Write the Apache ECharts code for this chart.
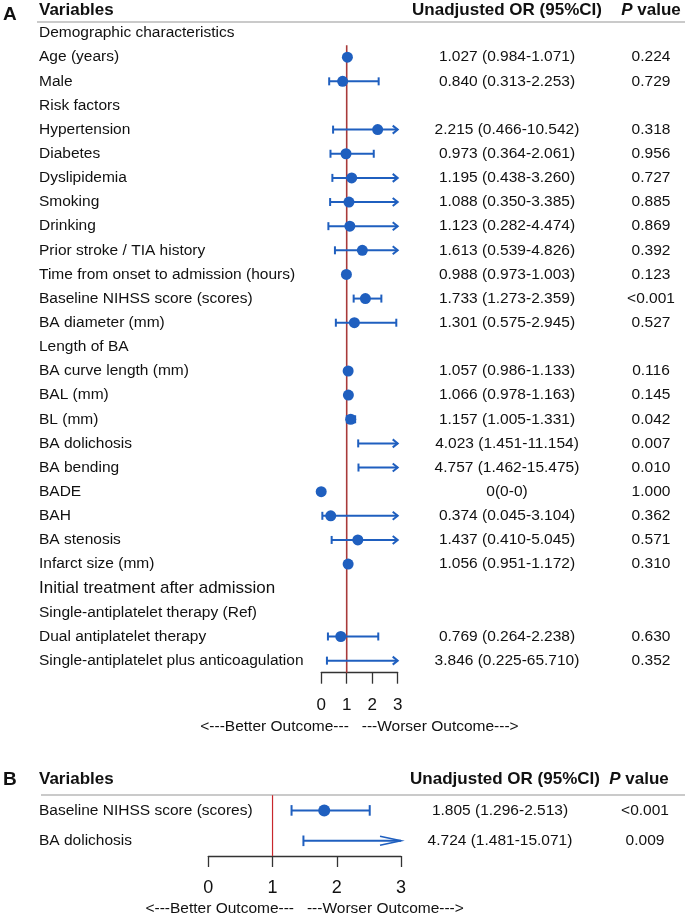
<!DOCTYPE html>
<html>
<head>
<meta charset="utf-8">
<title>Forest plot</title>
<script src="https://cdn.jsdelivr.net/npm/echarts@6/dist/echarts.min.js"></script>
<style>
  html, body { margin: 0; padding: 0; background: #fff; }
  #chart { width: 685px; height: 918px; }
</style>
</head>
<body>
<div id="chart"></div>
<script>
// panel A rows
var rowsA = ['Demographic characteristics', 'Age (years)', 'Male', 'Risk factors', 'Hypertension',
  'Diabetes', 'Dyslipidemia', 'Smoking', 'Drinking', 'Prior stroke / TIA history',
  'Time from onset to admission (hours)', 'Baseline NIHSS score (scores)', 'BA diameter (mm)',
  'Length of BA', 'BA curve length (mm)', 'BAL (mm)', 'BL (mm)', 'BA dolichosis', 'BA bending',
  'BADE', 'BAH', 'BA stenosis', 'Infarct size (mm)', 'Initial treatment after admission',
  'Single-antiplatelet therapy (Ref)', 'Dual antiplatelet therapy',
  'Single-antiplatelet plus anticoagulation'];
var orA = [null, 1.027, 0.840, null, 2.215, 0.973, 1.195, 1.088, 1.123, 1.613, 0.988, 1.733, 1.301,
  null, 1.057, 1.066, 1.157, 4.023, 4.757, 0, 0.374, 1.437, 1.056, null, null, 0.769, 3.846];
var loA = [null, 0.984, 0.313, null, 0.466, 0.364, 0.438, 0.350, 0.282, 0.539, 0.973, 1.273, 0.575,
  null, 0.986, 0.978, 1.005, 1.451, 1.462, 0, 0.045, 0.410, 0.951, null, null, 0.264, 0.225];
var hiA = [null, 1.071, 2.253, null, 10.542, 2.061, 3.260, 3.385, 4.474, 4.826, 1.003, 2.359, 2.945,
  null, 1.133, 1.163, 1.331, 11.154, 15.475, 0, 3.104, 5.045, 1.172, null, null, 2.238, 65.710];
var pA = ['', '0.224', '0.729', '', '0.318', '0.956', '0.727', '0.885', '0.869', '0.392', '0.123',
  '<0.001', '0.527', '', '0.116', '0.145', '0.042', '0.007', '0.010', '1.000', '0.362', '0.571',
  '0.310', '', '', '0.630', '0.352'];
var bigLabels = ['Initial treatment after admission'];

// panel B rows
var rowsB = ['Baseline NIHSS score (scores)', 'BA dolichosis'];
var orB = [1.805, 4.724];
var loB = [1.296, 1.481];
var hiB = [2.513, 15.071];
var pB = ['<0.001', '0.009'];

var xTicks = [0, 1, 2, 3];
var REF = 1;
var outcomeText = '<---Better Outcome---   ---Worser Outcome--->';

var FONT = '"Liberation Sans", Arial, Helvetica, sans-serif';
var BLUE = '#1f5fbf';
var INK = '#111';
var X_MIN = xTicks[0], X_MAX = xTicks[xTicks.length - 1];

function fmt(v) { return v.toFixed(3); }
function orTexts(or, lo, hi) {
  return or.map(function (v, i) {
    if (v === null) return '';
    if (v === 0 && lo[i] === 0 && hi[i] === 0) return '0(0-0)';
    return fmt(v) + ' (' + fmt(lo[i]) + '-' + fmt(hi[i]) + ')';
  });
}
function ciData(or, lo, hi) {
  var out = [];
  or.forEach(function (v, i) {
    if (v !== null && hi[i] > lo[i]) out.push([v, i, lo[i], hi[i]]);
  });
  return out;
}
function pointData(or) {
  var out = [];
  or.forEach(function (v, i) {
    if (v !== null && v >= X_MIN && v <= X_MAX) out.push([v, i]);
  });
  return out;
}

// confidence interval: line, caps, arrow when it runs past the axis end
function ciRenderer(capHalf, arrowLen, arrowHalf, lineW, arrowW) {
  return function (params, api) {
    var row = api.value(1), lo = api.value(2), hi = api.value(3);
    var y = api.coord([X_MIN, row])[1];
    var xl = api.coord([Math.max(lo, X_MIN), row])[0];
    var xr = api.coord([Math.min(hi, X_MAX), row])[0];
    var st = { stroke: BLUE, lineWidth: lineW, fill: null };
    var kids = [
      { type: 'line', shape: { x1: xl, y1: y, x2: xr, y2: y }, style: st },
      { type: 'line', shape: { x1: xl, y1: y - capHalf, x2: xl, y2: y + capHalf }, style: st }
    ];
    if (hi > X_MAX) {
      kids.push({ type: 'polyline',
        shape: { points: [[xr - arrowLen, y - arrowHalf], [xr, y], [xr - arrowLen, y + arrowHalf]] },
        style: { stroke: BLUE, lineWidth: arrowW, fill: null } });
    } else {
      kids.push({ type: 'line', shape: { x1: xr, y1: y - capHalf, x2: xr, y2: y + capHalf }, style: st });
    }
    return { type: 'group', children: kids };
  };
}

function refRenderer(startRow, color, width) {
  return function (params, api) {
    var cs = params.coordSys;
    var x = api.coord([api.value(0), 0])[0];
    var band = api.size([0, 1])[1];
    return { type: 'line',
      shape: { x1: x, y1: cs.y + band * startRow, x2: x, y2: cs.y + cs.height },
      style: { stroke: color, lineWidth: width } };
  };
}

function xAxisCfg(grid, labelSize, margin, nameGap) {
  return {
    gridIndex: grid, type: 'value', min: X_MIN, max: X_MAX, interval: 1,
    splitLine: { show: false },
    axisLine: { show: true, lineStyle: { color: '#333', width: 1.3 } },
    axisTick: { show: true, length: 11, lineStyle: { color: '#333', width: 1.3 } },
    axisLabel: { fontSize: labelSize, color: INK, fontFamily: FONT, margin: margin },
    name: outcomeText, nameLocation: 'middle', nameGap: nameGap,
    nameTextStyle: { fontSize: 15.5, color: INK, fontFamily: FONT }
  };
}
function labelAxis(grid, data, pos, align, margin, big) {
  return {
    gridIndex: grid, type: 'category', inverse: true, data: data, position: pos,
    axisLine: { show: false }, axisTick: { show: false }, splitLine: { show: false },
    axisLabel: {
      interval: 0, align: align, margin: margin, fontSize: 15.5, color: INK, fontFamily: FONT,
      formatter: function (v) { return big && big.indexOf(v) >= 0 ? '{big|' + v + '}' : v; },
      rich: { big: { fontSize: 17, color: INK, fontFamily: FONT } }
    }
  };
}

var gA = { left: 321.2, top: 21, width: 76.5, height: 651.7 };
var gB = { left: 208.3, top: 795.2, width: 192.7, height: 62.8 };
var orTextA = orTexts(orA, loA, hiA);
var orTextB = orTexts(orB, loB, hiB);

function headerTexts(letter, y, orX, pX, lineY, lineX) {
  var bold = 'bold 17px ' + FONT;
  return [
    { type: 'text', x: 3, y: y + (letter === 'A' ? 5 : 1), style: { text: letter, font: 'bold 19px ' + FONT, fill: INK, verticalAlign: 'middle' } },
    { type: 'text', x: 39, y: y, style: { text: 'Variables', font: bold, fill: INK, verticalAlign: 'middle' } },
    { type: 'text', x: orX, y: y, style: { text: 'Unadjusted OR (95%CI)', font: bold, fill: INK, align: 'center', verticalAlign: 'middle' } },
    { type: 'text', x: pX, y: y, style: { text: '{i|P} value', font: bold, fill: INK, align: 'center', verticalAlign: 'middle',
      rich: { i: { font: 'italic bold 17px ' + FONT, fill: INK } } } },
    { type: 'line', shape: { x1: lineX, y1: lineY, x2: 685, y2: lineY }, style: { stroke: '#b8b8b8', lineWidth: 1.5 } }
  ];
}

var chart = echarts.init(document.getElementById('chart'));
chart.setOption({
  animation: false,
  textStyle: { fontFamily: FONT },
  grid: [gA, gB],
  xAxis: [xAxisCfg(0, 17, 24, 46), xAxisCfg(1, 18, 23, 45)],
  yAxis: [
    labelAxis(0, rowsA, 'left', 'left', gA.left - 39, bigLabels),
    labelAxis(0, orTextA, 'right', 'center', 507 - (gA.left + gA.width)),
    labelAxis(0, pA, 'right', 'center', 651 - (gA.left + gA.width)),
    labelAxis(1, rowsB, 'left', 'left', gB.left - 39),
    labelAxis(1, orTextB, 'right', 'center', 500 - (gB.left + gB.width)),
    labelAxis(1, pB, 'right', 'center', 645 - (gB.left + gB.width))
  ],
  graphic: headerTexts('A', 10, 507, 651, 22, 37).concat(headerTexts('B', 779, 505, 639, 795, 41)),
  series: [
    { type: 'custom', xAxisIndex: 0, yAxisIndex: 0, data: [[REF, 0]], encode: { x: 0, y: 1 },
      renderItem: refRenderer(1, '#a83a3a', 1.6), z: 1, silent: true },
    { type: 'custom', xAxisIndex: 0, yAxisIndex: 0, data: ciData(orA, loA, hiA), encode: { x: [0, 2, 3], y: 1 },
      renderItem: ciRenderer(4, 5, 4, 2, 2), z: 2 },
    { type: 'scatter', xAxisIndex: 0, yAxisIndex: 0, data: pointData(orA), symbol: 'circle', symbolSize: 11,
      itemStyle: { color: BLUE, opacity: 1 }, z: 3 },
    { type: 'custom', xAxisIndex: 1, yAxisIndex: 3, data: [[REF, 0]], encode: { x: 0, y: 1 },
      renderItem: refRenderer(0, '#c8282d', 1.2), z: 1, silent: true },
    { type: 'custom', xAxisIndex: 1, yAxisIndex: 3, data: ciData(orB, loB, hiB), encode: { x: [0, 2, 3], y: 1 },
      renderItem: ciRenderer(5.3, 21, 4.5, 2, 1.6), z: 2 },
    { type: 'scatter', xAxisIndex: 1, yAxisIndex: 3, data: pointData(orB), symbol: 'circle', symbolSize: 12,
      itemStyle: { color: BLUE, opacity: 1 }, z: 3 }
  ]
});
</script>
</body>
</html>
